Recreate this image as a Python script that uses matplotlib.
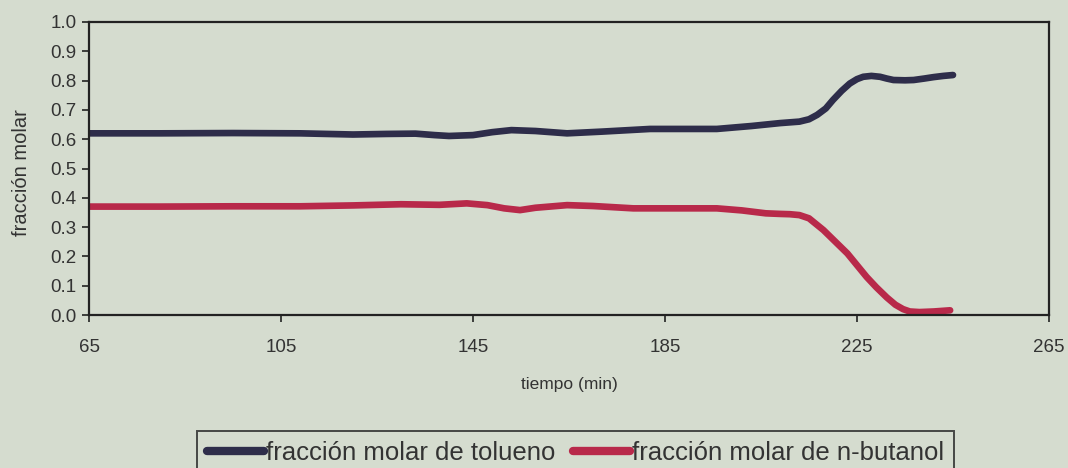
import matplotlib
matplotlib.use("Agg")
import matplotlib.pyplot as plt

plt.rcParams['font.family'] = ['Liberation Sans', 'DejaVu Sans']

tiempo_tol = [65, 80, 95, 109, 120, 127, 133, 137, 140, 145, 149, 153, 158, 164.6, 172, 181.9, 195.8, 203, 209, 213, 215, 216.7,
              218.5, 220, 221.8, 223.5, 225, 226.3, 228, 229.8, 231.2, 232.6, 235, 236.8, 239, 241, 243, 245]
tolueno = [0.620, 0.620, 0.621, 0.620, 0.616, 0.618, 0.619, 0.614, 0.611, 0.614, 0.624, 0.631, 0.628, 0.620, 0.626, 0.635, 0.635, 0.645, 0.655, 0.660, 0.668, 0.683,
           0.705, 0.734, 0.765, 0.790, 0.805, 0.813, 0.816, 0.813, 0.807, 0.802, 0.801, 0.802, 0.807, 0.812, 0.816, 0.819]

tiempo_but = [65, 80, 95, 109, 120, 130, 138, 143.7, 148, 151.5, 154.8, 158, 164.6, 170, 178.4, 195.8, 201, 206, 209, 211, 213, 215, 216.5,
              218, 220.5, 223, 225, 227, 229, 231.2, 233, 234.6, 236, 238, 241, 244.4]
butanol = [0.370, 0.370, 0.371, 0.371, 0.374, 0.378, 0.376, 0.381, 0.375, 0.364, 0.358, 0.366, 0.375, 0.372, 0.364, 0.364, 0.357, 0.347, 0.345, 0.344, 0.341, 0.330, 0.310,
           0.290, 0.250, 0.210, 0.170, 0.130, 0.095, 0.060, 0.035, 0.020, 0.012, 0.010, 0.012, 0.016]

xticks = [65, 105, 145, 185, 225, 265]
yticks = [0.0, 0.1, 0.2, 0.3, 0.4, 0.5, 0.6, 0.7, 0.8, 0.9, 1.0]

bg = '#d5dccf'
W, H = 1068, 468
fig = plt.figure(figsize=(W / 100, H / 100), dpi=100, facecolor=bg)
ax = fig.add_axes([89 / W, (H - 315) / H, (1049 - 89) / W, (315 - 22) / H])
ax.set_facecolor(bg)

l1, = ax.plot(tiempo_tol, tolueno, color='#2e2d4a', lw=4.8, solid_capstyle='round',
              solid_joinstyle='round', label='fracción molar de tolueno')
l2, = ax.plot(tiempo_but, butanol, color='#b8294a', lw=4.8, solid_capstyle='round',
              solid_joinstyle='round', label='fracción molar de n-butanol')

ax.set_xlim(65, 265)
ax.set_ylim(0, 1.0)
ax.set_xticks(xticks)
ax.set_yticks(yticks)
ax.set_xticklabels([str(t) for t in xticks])
ax.set_yticklabels([f'{t:.1f}' for t in yticks])
ax.tick_params(axis='both', direction='out', length=5, width=1.2, colors='#222222',
               labelsize=13.5, labelcolor='#333333')
ax.tick_params(axis='x', pad=12)
ax.tick_params(axis='y', pad=4)
for s in ax.spines.values():
    s.set_linewidth(1.6)
    s.set_color('#222222')

ax.set_xlabel('tiempo (min)', fontsize=12.5, color='#333333')
ax.xaxis.label.set_va('center')
ax.xaxis.set_label_coords(0.5, (315 - 385) / 293)
ax.set_ylabel('fracción molar', fontsize=14.5, color='#333333')
ax.yaxis.label.set_va('center')
ax.yaxis.set_label_coords((21 - 89) / 961, (315 - 173) / 293)

leg = fig.legend(handles=[l1, l2], loc='upper left', bbox_to_anchor=(197 / W, (H - 431) / H),
                 ncol=2, fontsize=18.5, frameon=True, fancybox=False,
                 handlelength=2.2, handletextpad=0.08, columnspacing=0.7,
                 borderpad=0.4, borderaxespad=0, labelcolor='#333333')
leg.get_frame().set_edgecolor('#222222')
leg.get_frame().set_linewidth(1.4)
leg.get_frame().set_facecolor(bg)
for h in leg.get_lines():
    h.set_linewidth(6)

fig.savefig('out.png', dpi=100, facecolor=bg)
